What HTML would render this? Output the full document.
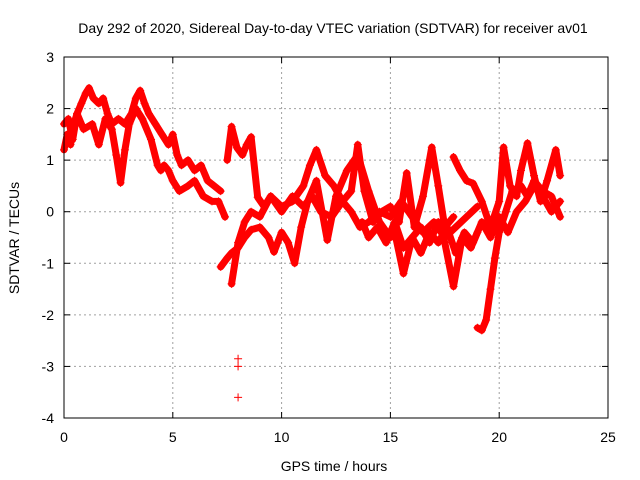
<!DOCTYPE html>
<html><head><meta charset="utf-8"><style>
body{margin:0;background:#fff}
svg{display:block;font-family:"Liberation Sans",sans-serif}
</style></head><body>
<svg id="chart" width="640" height="480" viewBox="0 0 640 480">
<text x="333" y="33" font-size="14" text-anchor="middle">Day 292 of 2020, Sidereal Day-to-day VTEC variation (SDTVAR) for receiver av01</text>
<text x="334" y="471" font-size="14" text-anchor="middle">GPS time / hours</text>
<text transform="translate(19,238) rotate(-90)" font-size="14" text-anchor="middle">SDTVAR / TECUs</text>
<g id="grid"></g>
<g id="marks"></g>
<rect x="64" y="57" width="544" height="361" fill="none" stroke="#000"/>
</svg>
<script>
const xTicks=[0,5,10,15,20,25];
const yTicks=[3,2,1,0,-1,-2,-3,-4];
const trackAHours=[0,0.15,0.3,0.45,0.6,0.8,1.0,1.15,1.35,1.6,1.8,2.0,2.2,2.5,2.8,3.1,3.3,3.5,3.7,3.9,4.2,4.5,4.8,5.0,5.2,5.4,5.7,6.0,6.3,6.6,6.9,7.2];
const trackAValues=[1.2,1.5,1.3,1.7,1.9,2.1,2.3,2.4,2.2,2.1,2.2,1.9,1.7,1.8,1.7,1.9,2.2,2.35,2.1,1.9,1.7,1.5,1.3,1.5,1.1,0.9,1.0,0.8,0.9,0.6,0.5,0.4];
const trackBHours=[0,0.2,0.4,0.6,0.9,1.3,1.6,1.9,2.2,2.4,2.6,2.8,3.0,3.3,3.6,4.0,4.3,4.45,4.6,4.8,5.0,5.3,5.7,6.0,6.4,6.8,7.1,7.4];
const trackBValues=[1.7,1.8,1.4,1.9,1.6,1.7,1.3,1.8,1.6,1.1,0.56,1.2,1.7,2.0,1.8,1.4,0.9,0.8,0.9,0.8,0.6,0.4,0.5,0.6,0.3,0.2,0.2,-0.1];
const trackCHours=[7.2,7.5,7.7,8.0,8.3,8.6,9.0,9.4,9.65,10.0,10.3,10.6,10.9,11.2,11.6,12.1,12.5,13.0,13.5,14.0,14.5,15.0,15.2,15.6,16.0,16.4,16.8,17.2,17.5,17.9,18.3,18.7,19.0];
const trackCValues=[-1.07,-0.9,-0.8,-0.7,-0.5,-0.35,-0.3,-0.5,-0.78,-0.4,-0.6,-1.0,-0.3,0.2,0.6,-0.55,0.3,0.8,1.1,0.4,-0.2,-0.5,-0.4,-1.2,-0.5,-0.3,-0.6,-0.2,-0.6,-1.45,-0.5,-0.7,-0.4];
const trackDHours=[7.5,7.7,7.95,8.2,8.4,8.6,8.9,9.2,9.5,10,10.5,11,11.4,11.8,12.3,12.8,13.2,13.5,13.8,14.2,14.6,15.0,15.4,15.75,16.1,16.5,16.9,17.2,17.5,17.9];
const trackDValues=[1.0,1.65,1.24,1.1,1.3,1.45,0.28,0.1,0.3,0.0,0.3,0.1,0.3,0.0,-0.1,0.2,0.4,1.3,0.4,-0.2,0.0,0.1,-0.2,0.75,-0.3,0.3,1.25,0.5,-0.3,-0.1];
const trackEHours=[7.7,8.0,8.3,8.6,9.0,9.5,10,10.5,11,11.3,11.6,12.0,12.4,12.8,13.2,13.6,14,14.5,15,15.5,16,16.5,17,17.5,18,18.5,19];
const trackEValues=[-1.4,-0.6,-0.2,0.0,-0.1,0.3,0.1,0.2,0.5,0.9,1.2,0.7,0.5,0.2,0.0,-0.3,-0.2,0.0,-0.1,0.2,-0.1,-0.4,-0.2,-0.5,-0.3,-0.1,0.1];
const trackFHours=[17.9,18.2,18.5,18.8,19.2,19.6,20.0,20.2,20.5,20.8,21.0,21.3,21.6,21.9,22.2,22.6,22.8];
const trackFValues=[1.06,0.8,0.6,0.55,0.2,-0.3,0.2,1.25,0.5,0.3,0.8,1.33,0.7,0.2,0.6,1.2,0.7];
const trackGHours=[19.0,19.2,19.4,19.6,19.8,20.0,20.3,20.6,21.0,21.3,21.6,22.0,22.4,22.8];
const trackGValues=[-2.25,-2.3,-2.1,-1.5,-0.9,-0.4,0.0,0.4,0.5,0.3,0.6,0.4,0.3,-0.1];
const trackHHours=[13.7,14.0,14.4,14.8,15.2,15.6,16.0,16.4,16.8,17.2,17.6,18.0,18.4,18.8,19.2,19.6,20.0,20.4,20.8,21.2,21.6,22.0,22.4,22.8];
const trackHValues=[-0.2,-0.5,-0.3,-0.6,-0.2,-0.7,-0.5,-0.8,-0.4,-0.6,-0.3,-0.8,-0.4,-0.6,-0.2,-0.5,-0.1,-0.4,0.0,0.2,0.5,0.3,0.0,0.2];
const outlierHours=[8,8,8];
const outlierValues=[-2.85,-3.0,-3.6];
const tracks=[[trackAHours,trackAValues],[trackBHours,trackBValues],[trackCHours,trackCValues],[trackDHours,trackDValues],[trackEHours,trackEValues],[trackFHours,trackFValues],[trackGHours,trackGValues],[trackHHours,trackHValues]];
const NS='http://www.w3.org/2000/svg';
const X=h=>64+h*(544/25);
const Y=v=>57+(3-v)*(361/7);
const grid=document.getElementById('grid'),marks=document.getElementById('marks');
function mk(t,a,p){const e=document.createElementNS(NS,t);for(const k in a)e.setAttribute(k,a[k]);p.appendChild(e);return e;}
xTicks.forEach(t=>{
  const x=X(t);
  if(t>0&&t<25){const l=mk('line',{x1:x,y1:57,x2:x,y2:418,stroke:'#a0a0a0','stroke-dasharray':'2,3'},grid);
  
  }
  mk('line',{x1:x,y1:418,x2:x,y2:412,stroke:'#000'},grid);
  mk('line',{x1:x,y1:57,x2:x,y2:63,stroke:'#000'},grid);
  const tx=mk('text',{x:x,y:442,'font-size':14,'text-anchor':'middle'},grid);tx.textContent=t;
  
  
});
yTicks.forEach(t=>{
  const y=Y(t);
  if(t>-4&&t<3){const l=mk('line',{x1:64,y1:y,x2:608,y2:y,stroke:'#a0a0a0','stroke-dasharray':'2,3'},grid);
  
  }
  mk('line',{x1:64,y1:y,x2:70,y2:y,stroke:'#000'},grid);
  mk('line',{x1:608,y1:y,x2:602,y2:y,stroke:'#000'},grid);
  const tx=mk('text',{x:54,y:y+5,'font-size':14,'text-anchor':'end'},grid);tx.textContent=t;
  
  
});
function plus(h,v){const x=X(h),y=Y(v);
  const p=mk('path',{d:`M${x-4},${y}h8M${x},${y-4}v8`,stroke:'#f00','stroke-width':1},marks);
  
  }
tracks.forEach(([hs,vs])=>{
  const pl=mk('polyline',{points:hs.map((h,i)=>X(h)+','+Y(vs[i])).join(' '),fill:'none',stroke:'#f00','stroke-width':7,'stroke-linejoin':'round','stroke-linecap':'round'},marks);
  
  
  hs.forEach((h,i)=>plus(h,vs[i]));
});
outlierHours.forEach((h,i)=>plus(h,outlierValues[i]));
</script>
</body></html>
